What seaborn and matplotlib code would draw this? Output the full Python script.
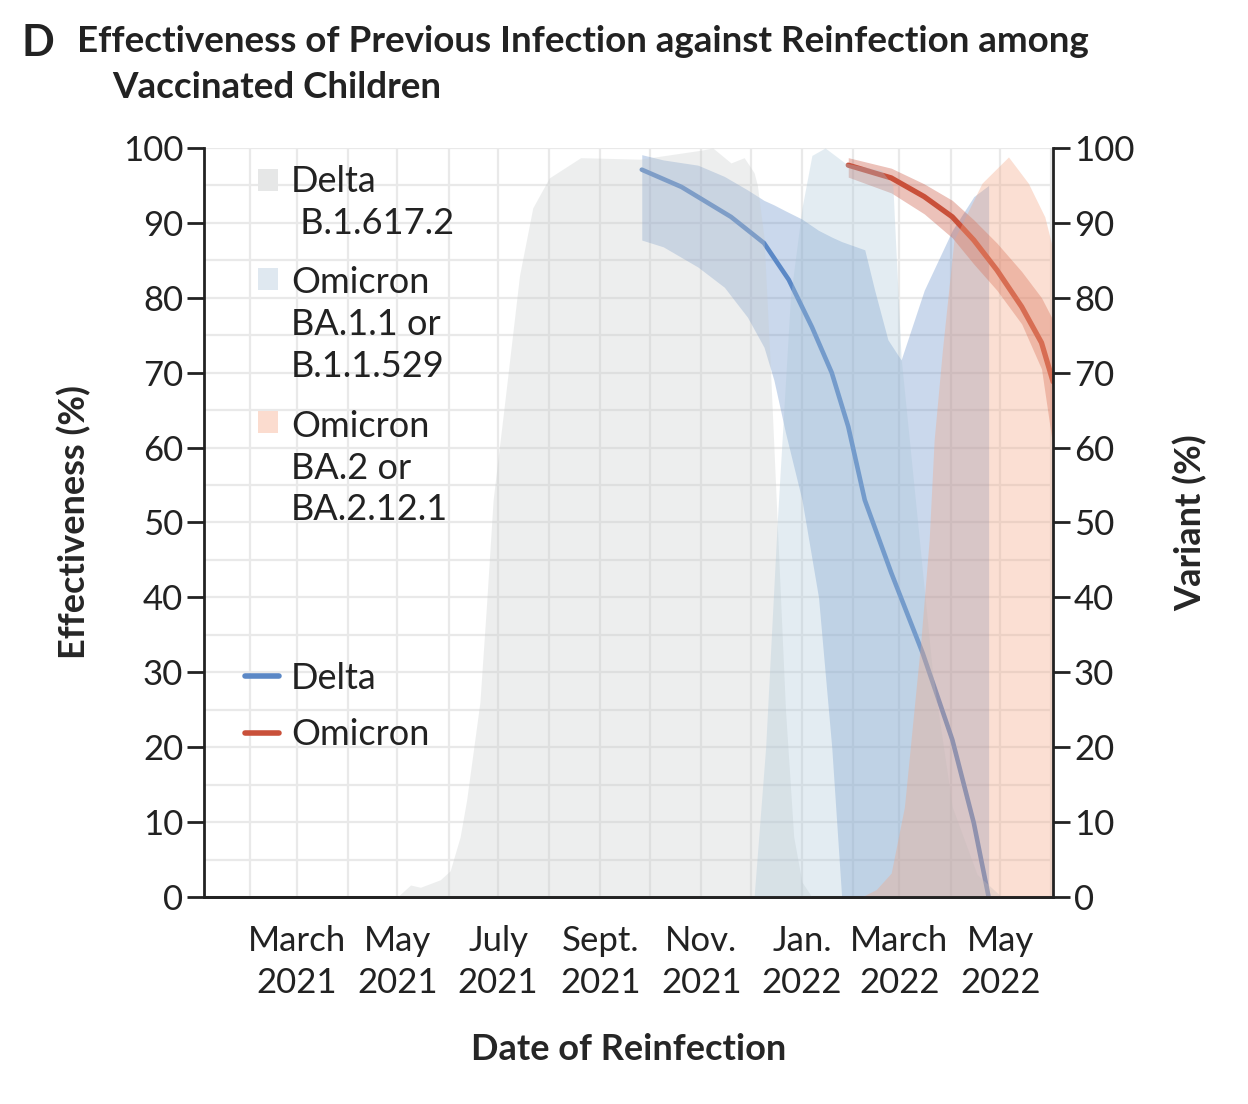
import pandas as pd
import matplotlib
matplotlib.use("Agg")
import matplotlib.pyplot as plt
import matplotlib.dates as mdates
from matplotlib.patches import Patch, Rectangle
from matplotlib.lines import Line2D
from matplotlib.legend_handler import HandlerPatch
import seaborn as sns

# ---- variant share (%), right axis ----
delta_var_dates = ["2021-05-01", "2021-05-09", "2021-05-15", "2021-05-27", "2021-06-02",
                   "2021-06-08", "2021-06-12", "2021-06-20", "2021-06-24", "2021-06-28",
                   "2021-07-05", "2021-07-14", "2021-07-22", "2021-08-01", "2021-08-20",
                   "2021-09-25", "2021-11-01", "2021-11-08", "2021-11-19", "2021-11-27",
                   "2021-12-03", "2021-12-05", "2021-12-09", "2021-12-13", "2021-12-17",
                   "2021-12-22", "2021-12-27", "2022-01-01", "2022-01-07"]
delta_var_pct = [0, 1.6, 1.3, 2.3, 3.5, 8, 13, 26, 39, 53, 66, 83, 92, 96, 98.7,
                 98.5, 99.7, 100, 98, 98.7, 96.7, 95, 88, 70, 50, 25, 8, 2, 0]

ba1_dates = ["2021-12-03", "2021-12-10", "2021-12-17", "2021-12-25", "2022-01-01",
             "2022-01-07", "2022-01-15", "2022-01-27", "2022-02-18", "2022-02-25",
             "2022-03-02", "2022-03-12", "2022-03-21", "2022-04-02", "2022-04-17",
             "2022-05-02"]
ba1_pct = [0, 20, 50, 80, 92, 99, 100, 98, 97, 95, 72, 50, 30, 12, 3, 0]

ba2_dates = ["2022-02-06", "2022-02-15", "2022-02-24", "2022-03-04", "2022-03-10",
             "2022-03-14", "2022-03-19", "2022-03-22", "2022-03-27", "2022-04-03",
             "2022-04-20", "2022-05-06", "2022-05-18", "2022-05-28", "2022-06-02"]
ba2_pct = [0, 1, 3.2, 12, 25.4, 34.3, 47.7, 61, 73, 87.7, 95.3, 98.8, 95.3, 90.8, 86.4]

# ---- effectiveness (%), left axis ----
delta_eff_dates = ["2021-09-26", "2021-10-20", "2021-11-19", "2021-12-09", "2021-12-24",
                   "2022-01-07", "2022-01-19", "2022-01-29", "2022-02-08", "2022-02-24",
                   "2022-03-15", "2022-04-02", "2022-04-15", "2022-04-24"]
delta_eff = [97.1, 94.8, 90.8, 87.3, 82.4, 76.1, 70, 62.8, 53, 43.3, 32.6, 21, 9.9, 0]

delta_ci_dates = ["2021-09-26", "2021-10-09", "2021-10-30", "2021-11-15", "2021-11-29",
                  "2021-12-09", "2021-12-15", "2021-12-22", "2022-01-01", "2022-01-11",
                  "2022-01-19", "2022-01-25", "2022-02-08", "2022-02-14", "2022-02-22",
                  "2022-03-02", "2022-03-16", "2022-04-02", "2022-04-15", "2022-04-24"]
delta_ci_hi = [99.1, 98.4, 97.7, 96.2, 94.4, 93, 92.4, 91.6, 90.5, 89, 88.1, 87.5,
               86.4, 81, 74.4, 71.7, 81, 89, 93.5, 95]
delta_ci_lo = [87.7, 86.8, 84.1, 81.4, 77.4, 73.4, 69, 62, 53, 40, 20, 0,
               0, 0, 0, 0, 0, 0, 0, 0]

omi_dates = ["2022-01-29", "2022-02-24", "2022-03-16", "2022-04-02", "2022-04-15",
             "2022-04-29", "2022-05-14", "2022-05-26", "2022-06-02"]
omi_eff = [97.7, 96, 93.5, 90.8, 87.7, 83.7, 78.8, 74, 68.8]
omi_ci_hi = [98.7, 97.3, 95.2, 93, 90.4, 87.3, 83.5, 80, 77]
omi_ci_lo = [96.1, 94, 91.2, 88, 84.5, 81, 76.5, 70.5, 60]

tick_dates = ["2021-03-01", "2021-05-01", "2021-07-01", "2021-09-01",
              "2021-11-01", "2022-01-01", "2022-03-01", "2022-05-01"]
tick_labels = ["March\n2021", "May\n2021", "July\n2021", "Sept.\n2021",
               "Nov.\n2021", "Jan.\n2022", "March\n2022", "May\n2022"]

BLUE = "#5b88c6"
RED = "#c9503a"
INK = "#222222"
FS = 25
LEG_LS = 1.33  # line spacing inside the variant legend labels


class TopSquare(HandlerPatch):
    # square aligned with the first line of a multi-line label
    def __init__(self, nlines):
        super().__init__()
        self.nlines = nlines

    def create_artists(self, legend, orig_handle, xdescent, ydescent, width, height,
                       fontsize, trans):
        shift = (self.nlines - 1) * 0.5 * fontsize * 1.17 * LEG_LS / 1.2
        r = Rectangle((-xdescent, -ydescent + shift), width, height,
                      facecolor=orig_handle.get_facecolor(), lw=0, transform=trans)
        return [r]


sns.set_theme(style="white")
plt.rcParams["font.family"] = ["Lato", "DejaVu Sans"]
plt.rcParams["text.color"] = INK

fig = plt.figure(figsize=(12.48, 11.04), dpi=100)
ax = fig.add_axes([0.1635, 0.1875, 0.6803, 0.6785])

d = pd.to_datetime
ax.fill_between(d(delta_ci_dates), delta_ci_lo, delta_ci_hi, color=BLUE, alpha=0.32, lw=0)
ax.fill_between(d(omi_dates), omi_ci_lo, omi_ci_hi, color=RED, alpha=0.35, lw=0)

df_delta = pd.DataFrame({"date": d(delta_eff_dates), "eff": delta_eff})
df_omi = pd.DataFrame({"date": d(omi_dates), "eff": omi_eff})
sns.lineplot(data=df_delta, x="date", y="eff", ax=ax, color=BLUE, lw=3.3)
sns.lineplot(data=df_omi, x="date", y="eff", ax=ax, color=RED, lw=3.8)

ax2 = ax.twinx()
ax2.fill_between(d(delta_var_dates), 0, delta_var_pct, color="#c8cccc", alpha=0.32, lw=0)
ax2.fill_between(d(ba1_dates), 0, ba1_pct, color="#a9c6d8", alpha=0.32, lw=0)
ax2.fill_between(d(ba2_dates), 0, ba2_pct, color="#f4a582", alpha=0.35, lw=0)

for a in (ax, ax2):
    a.set_xlim(d("2021-01-04"), d("2022-06-02"))
    a.set_ylim(0, 100)
    a.set_yticks(range(0, 101, 10))
    a.set_yticks(range(0, 101, 5), minor=True)
    a.spines["top"].set_visible(False)
    for s in ("left", "right", "bottom"):
        a.spines[s].set_linewidth(2)
        a.spines[s].set_color(INK)
    a.tick_params(axis="both", which="major", direction="out", length=12, width=2,
                  color=INK, labelsize=FS, labelcolor=INK, pad=3)
    a.tick_params(axis="both", which="minor", length=0)

ax.spines["right"].set_visible(False)
ax2.spines["left"].set_visible(False)
ax.set_xticks(d(tick_dates))
ax.set_xticklabels(tick_labels, linespacing=1.4)
ax.tick_params(axis="x", pad=8)
ax.xaxis.set_minor_locator(mdates.MonthLocator())
ax.grid(True, which="both", color="#e9e9e9", lw=1.6)
ax.set_axisbelow(True)

ax.set_ylabel("Effectiveness (%)", fontsize=26, fontweight="bold", labelpad=23)
ax2.set_ylabel("Variant (%)", fontsize=26, fontweight="bold", labelpad=28)
ax.set_xlabel("Date of Reinfection", fontsize=26, fontweight="bold", labelpad=24)

var_handles = [Patch(color="#e6e7e7", lw=0), Patch(color="#dfe8f0", lw=0),
               Patch(color="#fbdccf", lw=0)]
var_labels = ["Delta\n B.1.617.2", "Omicron\nBA.1.1 or\nB.1.1.529",
              "Omicron\nBA.2 or\nBA.2.12.1"]
leg1 = ax2.legend(var_handles, var_labels, loc="upper left", bbox_to_anchor=(0.064, 0.977),
                  frameon=False, fontsize=FS + 1, handlelength=0.55, handleheight=0.55,
                  handletextpad=0.36, labelspacing=0.73, borderpad=0, borderaxespad=0,
                  handler_map={var_handles[0]: TopSquare(2), var_handles[1]: TopSquare(3),
                               var_handles[2]: TopSquare(3)})
for t in leg1.get_texts():
    t.set_linespacing(LEG_LS)
ax2.add_artist(leg1)

eff_handles = [Line2D([], [], color=BLUE, lw=4), Line2D([], [], color=RED, lw=4)]
ax2.legend(eff_handles, ["Delta", "Omicron"], loc="upper left", bbox_to_anchor=(0.048, 0.314),
           frameon=False, fontsize=FS + 1, handlelength=0.95, handletextpad=0.33,
           labelspacing=0.65, borderpad=0, borderaxespad=0)

fig.text(0.0176, 0.979, "D", fontsize=31, fontweight="bold", va="top")
fig.text(0.0617, 0.977, "Effectiveness of Previous Infection against Reinfection among",
         fontsize=26.5, fontweight="bold", va="top")
fig.text(0.0897, 0.936, "Vaccinated Children", fontsize=26.5, fontweight="bold", va="top")

fig.savefig("out.png", dpi=100, facecolor="white")
